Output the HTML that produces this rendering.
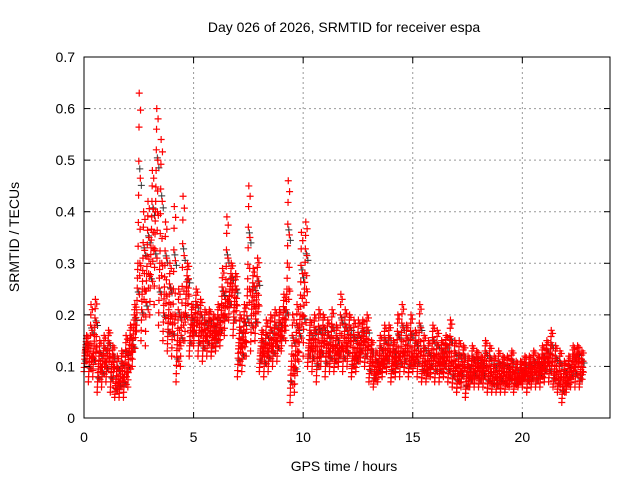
<!DOCTYPE html>
<html><head><meta charset="utf-8"><style>
body{margin:0;background:#fff}
svg{display:block;font-family:"Liberation Sans",sans-serif}
</style></head><body>
<svg id="chart" width="640" height="480" viewBox="0 0 640 480">
<rect width="640" height="480" fill="#fff"/>
<text x="344" y="32" font-size="14" text-anchor="middle">Day 026 of 2026, SRMTID for receiver espa</text>
<text transform="translate(19,237) rotate(-90)" font-size="14" text-anchor="middle">SRMTID / TECUs</text>
<text x="344" y="471" font-size="14" text-anchor="middle">GPS time / hours</text>
<g id="grid"></g>
<g id="marks"></g>
<rect x="84" y="57" width="526" height="361" fill="none" stroke="#000" stroke-width="1"/>
<g id="ticks"></g>
</svg>
<script>
const times=[];for(let i=0;i<114;i++)times.push(+(i*0.2).toFixed(1));
const lowVals=[.09,.07,.08,.05,.06,.07,.05,.04,.04,.04,.06,.10,.18,.15,.14,.20,.22,.18,.15,.13,.12,.07,.10,.15,.12,.14,.12,.11,.12,.12,.13,.14,.16,.19,.16,.08,.09,.12,.13,.15,.09,.08,.09,.10,.11,.13,.15,.03,.05,.11,.12,.10,.09,.07,.10,.08,.09,.09,.10,.09,.10,.08,.09,.11,.10,.07,.06,.07,.08,.09,.07,.08,.08,.09,.08,.09,.08,.07,.07,.08,.07,.07,.08,.07,.06,.05,.06,.04,.06,.06,.06,.06,.05,.05,.05,.05,.05,.06,.05,.06,.06,.05,.06,.06,.06,.07,.07,.06,.05,.03,.05,.06,.06,.06];
const midVals=[.13,.12,.14,.10,.11,.12,.10,.07,.08,.09,.13,.17,.30,.25,.28,.33,.40,.30,.24,.20,.20,.15,.20,.24,.17,.19,.17,.16,.17,.16,.17,.20,.23,.25,.22,.14,.15,.25,.22,.22,.13,.13,.14,.15,.16,.18,.25,.10,.13,.20,.25,.14,.14,.13,.15,.13,.14,.13,.14,.14,.15,.12,.13,.15,.14,.11,.09,.11,.12,.13,.11,.12,.13,.13,.12,.12,.13,.11,.10,.12,.11,.11,.12,.11,.10,.09,.10,.08,.09,.10,.09,.10,.09,.08,.08,.09,.08,.09,.08,.08,.09,.09,.09,.09,.10,.11,.11,.09,.08,.07,.08,.10,.11,.09];
const highVals=[.16,.22,.23,.15,.16,.17,.14,.12,.13,.16,.18,.22,.63,.40,.42,.48,.60,.54,.38,.30,.41,.25,.43,.30,.22,.25,.23,.21,.21,.20,.22,.29,.39,.30,.28,.20,.22,.45,.29,.31,.17,.19,.20,.21,.21,.24,.46,.20,.22,.36,.38,.19,.20,.21,.20,.19,.21,.18,.24,.21,.20,.19,.19,.19,.20,.15,.13,.16,.18,.18,.15,.20,.22,.18,.20,.17,.22,.16,.15,.18,.17,.15,.16,.19,.15,.15,.14,.12,.14,.13,.12,.15,.14,.12,.13,.12,.12,.13,.11,.11,.12,.12,.13,.12,.14,.15,.17,.14,.13,.11,.12,.14,.14,.13];
const xTicks=[0,5,10,15,20];
const yTicks=[0,0.1,0.2,0.3,0.4,0.5,0.6,0.7];
const X0=84,X1=610,Y0=418,Y1=57;
const xs=t=>X0+t/24*(X1-X0);
const ys=v=>Y0-v/0.7*(Y0-Y1);
const NS='http://www.w3.org/2000/svg';
const grid=document.getElementById('grid'),ticks=document.getElementById('ticks'),marks=document.getElementById('marks');
function mk(tag,attrs,parent){const e=document.createElementNS(NS,tag);for(const k in attrs)e.setAttribute(k,attrs[k]);parent.appendChild(e);return e;}
xTicks.forEach(t=>{
  const x=xs(t);
  if(t>0){const g=mk('line',{x1:x,y1:Y1,x2:x,y2:Y0,stroke:'#999','stroke-dasharray':'2,3'},grid);
  
  }
  mk('line',{x1:x,y1:Y0,x2:x,y2:Y0-6,stroke:'#000'},ticks);
  mk('line',{x1:x,y1:Y1,x2:x,y2:Y1+6,stroke:'#000'},ticks);
  const l=mk('text',{x:x,y:Y0+24,'font-size':14,'text-anchor':'middle'},ticks);l.textContent=t;
  
  
});
yTicks.forEach(v=>{
  const y=ys(v);
  if(v>0&&v<0.7){const g=mk('line',{x1:X0,y1:y,x2:X1,y2:y,stroke:'#999','stroke-dasharray':'2,3'},grid);
  
  }
  mk('line',{x1:X0,y1:y,x2:X0+6,y2:y,stroke:'#000'},ticks);
  mk('line',{x1:X1,y1:y,x2:X1-6,y2:y,stroke:'#000'},ticks);
  const l=mk('text',{x:X0-9,y:y+5,'font-size':14,'text-anchor':'end'},ticks);l.textContent=(v===0?'0':v.toFixed(1));
  
  
});
const fr=[0,0.1,0.2,0.3,0.38,0.45,0.5,0.55,0.62,0.7,0.8,0.9,1,0.25,0.4,0.5,0.6,0.75,0.95,0.48];
function plus(x,y,p){p.d=(p.d||'')+'M'+(x-3.5)+' '+y+'h7M'+x+' '+(y-3.5)+'v7';}
const red={},blk={};
times.forEach((t,i)=>{
  const lo=lowVals[i],mi=midVals[i],hi=highVals[i];
  fr.forEach((f,j)=>{
    const tt=t+(j/fr.length)*0.2;
    let v=f<=0.5?lo+(mi-lo)*(f/0.5):mi+(hi-mi)*((f-0.5)/0.5);
    if(j%7===3)plus(xs(tt)+1,ys(v*0.97),blk);
    plus(xs(tt),ys(v),red);
  });
});
const pb=mk('path',{d:blk.d,stroke:'#333',fill:'none','stroke-width':1},marks);


const pr=mk('path',{d:red.d,stroke:'#f00',fill:'none','stroke-width':1.2},marks);


</script>
</body></html>
